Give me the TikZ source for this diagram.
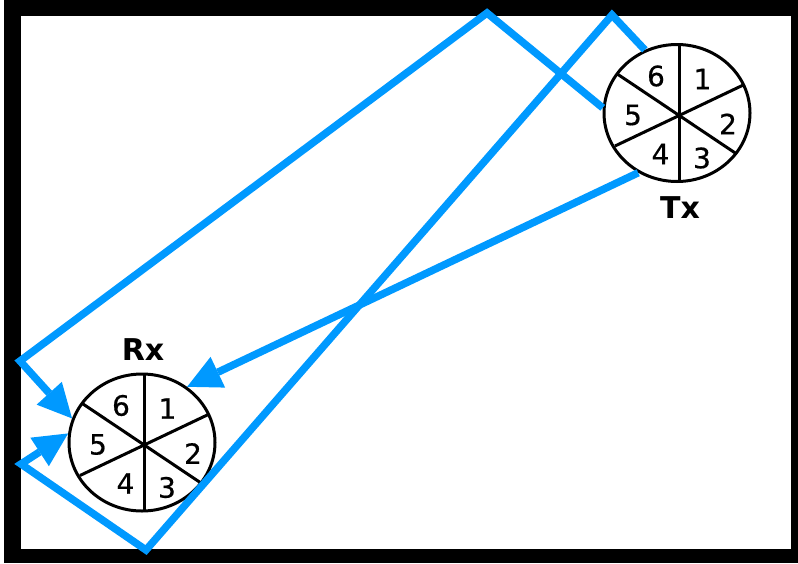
\documentclass[tikz,border=0pt]{standalone}
\usepackage{fontspec}
\setmainfont{DejaVu Sans}
\newfontfamily\numfont{DejaVu Sans}[BoldFont={DejaVu Sans},BoldFeatures={FakeBold=0.6}]
\usetikzlibrary{arrows.meta,shapes.geometric}
\definecolor{sig}{RGB}{0,153,255}
\begin{document}
\begin{tikzpicture}[x=1pt,y=-1pt,
  wheel/.style={draw,ellipse,line width=3pt,minimum width=146pt,minimum height=137pt,inner sep=0pt,outer sep=1.5pt},
  spoke/.style={line width=3pt},
  num/.style={inner sep=0pt,font=\fontsize{28}{28}\selectfont\numfont\bfseries},
  lbl/.style={inner sep=0pt,font=\fontsize{30}{30}\selectfont\bfseries},
  wire/.style={draw=sig,line width=7.5pt,miter limit=10},
  arr/.style={wire,-{Triangle[length=34pt,width=34pt,line width=0pt]}}]
\useasboundingbox (0,0) rectangle (798,563);
\fill[black] (4,0) rectangle (798,563);
\fill[white] (20.5,16) rectangle (791,549);
\node[wheel] (tx) at (677,113) {};
\node[wheel] (rx) at (142,442.5) {};
\foreach \w in {tx,rx}{
  \begin{scope}[shift={(\w.center)}]
    \draw[spoke] (2,-68.5) -- (2,68.5);
    \draw[spoke] (-59.7,-39) -- (59.7,41);
    \draw[spoke] (-62,33) -- (66.3,-28);
    \node[num] (\w6) at (-21,-37) {6};
    \node[num] (\w1) at (25.5,-34) {1};
    \node[num] (\w5) at (-44,2) {5};
    \node[num] (\w2) at (51,11) {2};
    \node[num] (\w4) at (-16.5,41) {4};
    \node[num] (\w3) at (25,45) {3};
  \end{scope}
}
\node[lbl] (txl) at (680,208) {Tx};
\node[lbl] (rxl) at (143,350) {Rx};
\coordinate (a1) at (612,15);
\coordinate (a2) at (146,550);
\coordinate (a3) at (21,464);
\coordinate (b1) at (487,13);
\coordinate (b2) at (20,361);
\draw[arr] (tx.117) -- (a1) -- (a2) -- (a3) -- (rx.173);
\draw[arr] (tx.176) -- (b1) -- (b2) -- (rx.161);
\draw[arr] (tx.237) -- (rx.51);
\end{tikzpicture}
\end{document}
